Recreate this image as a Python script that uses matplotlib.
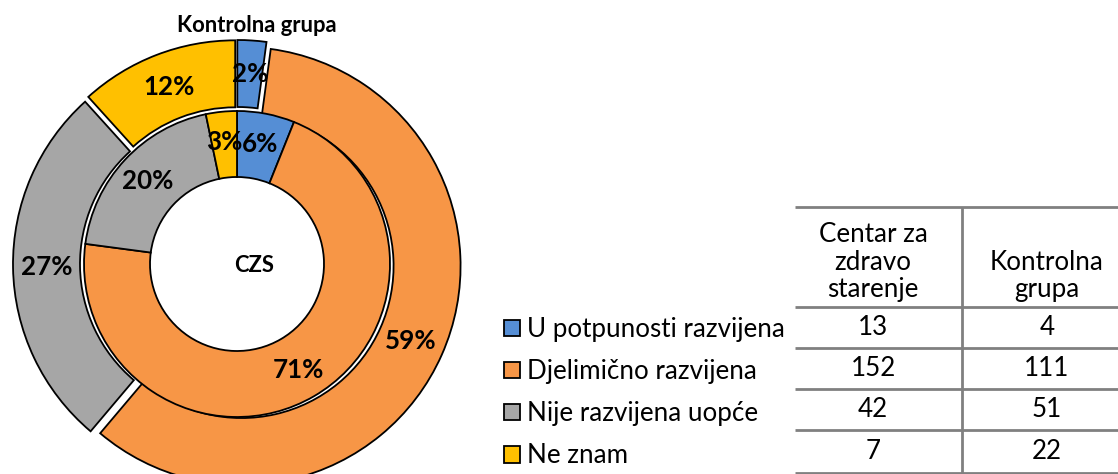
import numpy as np
import matplotlib.pyplot as plt

plt.rcParams['font.family'] = ['Lato', 'DejaVu Sans']

kategorije = ['U potpunosti razvijena', 'Djelimično razvijena', 'Nije razvijena uopće', 'Ne znam']
czs = [13, 152, 42, 7]
kontrolna = [4, 111, 51, 22]
boje = ['#558ed5', '#f79646', '#a6a6a6', '#ffc000']
zaglavlje = ['Centar za\nzdravo\nstarenje', 'Kontrolna\ngrupa']

W, H = 1118, 474
fig = plt.figure(figsize=(W / 100, H / 100), dpi=100)
ax = fig.add_axes([0, 0, 1, 1])

cx, cy = 237, H - 264
fs_big = 26 * 72 / 100
fs_title = 22 * 72 / 100

# vanjski prsten - kontrolna grupa (razmaknuti dijelovi)
ax.pie(kontrolna, colors=boje, radius=219, center=(cx, cy), startangle=90,
       counterclock=False, explode=[5] * 4, autopct='%.0f%%', pctdistance=0.845,
       wedgeprops=dict(width=67, edgecolor='black', linewidth=1.3),
       textprops=dict(fontsize=fs_big, fontweight='bold', color='black'))
# unutarnji prsten - CZS
wu = ax.pie(czs, colors=boje, radius=153, center=(cx, cy), startangle=90,
            counterclock=False, autopct='%.0f%%', pctdistance=0.80,
            wedgeprops=dict(width=66, edgecolor='black', linewidth=1.3),
            textprops=dict(fontsize=fs_big, fontweight='bold', color='black'))[0]

ax.text(257, H - 25, 'Kontrolna grupa', ha='center', va='center', fontsize=fs_title, fontweight='bold')
ax.text(254, H - 265, 'CZS', ha='center', va='center', fontsize=fs_title, fontweight='bold')

# legenda
ax.legend(wu, kategorije, loc='upper left', bbox_to_anchor=(504 / W, 1 - 317 / H),
          frameon=False, fontsize=fs_big, handlelength=0.6, handleheight=0.6,
          handletextpad=0.3, labelspacing=0.66, borderpad=0, borderaxespad=0)

# tablica
siva = '#808080'
x0, xm, x1 = 795, 962, W
linije = [207, 307, 348, 389, 430, 473]
ax.hlines([H - y for y in linije], x0, x1, colors=siva, linewidth=2)
ax.vlines(xm, H - linije[-1], H - linije[0], colors=siva, linewidth=2)
kol = [873, 1047]
ax.text(kol[0], H - 262, zaglavlje[0], ha='center', va='center', fontsize=fs_big, linespacing=1.12)
ax.text(kol[1], H - 276, zaglavlje[1], ha='center', va='center', fontsize=fs_big, linespacing=1.12)
for i in range(len(czs)):
    yc = H - (linije[i + 1] + linije[i + 2]) / 2
    ax.text(kol[0], yc, str(czs[i]), ha='center', va='center', fontsize=fs_big)
    ax.text(kol[1], yc, str(kontrolna[i]), ha='center', va='center', fontsize=fs_big)

ax.set_xlim(0, W)
ax.set_ylim(0, H)
ax.set_axis_off()

fig.savefig('out.png', dpi=100)
